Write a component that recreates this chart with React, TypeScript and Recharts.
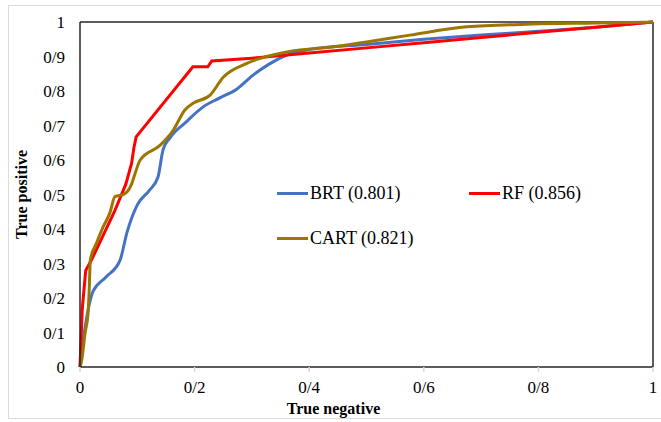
import React from 'react';
import { LineChart, Line, XAxis, YAxis, ReferenceLine } from 'recharts';

// ROC points: x = true negative axis, y = true positive axis
const brtX = [0, 0.009, 0.023, 0.045, 0.07, 0.082, 0.1, 0.12, 0.136, 0.145, 0.157, 0.185, 0.215, 0.244, 0.274, 0.302, 0.33, 0.361, 0.4, 0.5, 0.6, 0.7, 0.8, 0.9, 1];
const brtY = [0, 0.116, 0.22, 0.26, 0.31, 0.39, 0.47, 0.51, 0.55, 0.63, 0.664, 0.71, 0.754, 0.78, 0.806, 0.846, 0.878, 0.904, 0.92, 0.935, 0.95, 0.962, 0.973, 0.985, 1];

const rfX = [0, 0.004, 0.01, 0.02, 0.04, 0.06, 0.08, 0.09, 0.094, 0.098, 0.197, 0.223, 0.23, 0.3, 0.4, 0.5, 0.6, 0.7, 0.8, 0.9, 1];
const rfY = [0, 0.17, 0.28, 0.31, 0.38, 0.45, 0.53, 0.59, 0.635, 0.667, 0.87, 0.87, 0.887, 0.895, 0.91, 0.925, 0.94, 0.955, 0.97, 0.985, 1];

const cartX = [0, 0.003, 0.009, 0.014, 0.016, 0.018, 0.029, 0.04, 0.052, 0.061, 0.076, 0.09, 0.096, 0.105, 0.14, 0.163, 0.183, 0.198, 0.227, 0.25, 0.291, 0.361, 0.45, 0.5, 0.576, 0.675, 0.79, 0.9, 1];
const cartY = [0, 0.02, 0.1, 0.155, 0.22, 0.31, 0.36, 0.405, 0.446, 0.494, 0.5, 0.53, 0.56, 0.6, 0.643, 0.687, 0.745, 0.765, 0.788, 0.84, 0.88, 0.913, 0.93, 0.942, 0.962, 0.986, 0.994, 0.997, 1];

const xTicks = [0, 0.2, 0.4, 0.6, 0.8, 1];
const yTicks = [0, 0.1, 0.2, 0.3, 0.4, 0.5, 0.6, 0.7, 0.8, 0.9, 1];

const series = [
  { name: 'BRT (0.801)', color: '#4472C4', xs: brtX, ys: brtY, curve: 'monotone' },
  { name: 'RF (0.856)', color: '#FF0000', xs: rfX, ys: rfY, curve: 'linear' },
  { name: 'CART (0.821)', color: '#9C7600', xs: cartX, ys: cartY, curve: 'monotone' },
];

const toPoints = (xs: number[], ys: number[]) => xs.map((x, i) => ({ x, y: ys[i] }));

// the original uses "/" as decimal separator
const fmt = (v: number) => (v === 0 || v === 1 ? String(v) : String(Number(v.toFixed(1))).replace('.', '/'));

const font = '"Liberation Serif", "Times New Roman", serif';

function LegendBox() {
  return (
    <div style={{ position: 'absolute', left: 277, top: 181, display: 'grid', gridTemplateColumns: '192px 150px', rowGap: 21, fontFamily: font, fontSize: 18, color: '#000' }}>
      {series.map((s) => (
        <div key={s.name} style={{ display: 'flex', alignItems: 'center', height: 24 }}>
          <span style={{ display: 'inline-block', width: 31, height: 3, background: s.color, marginRight: 2 }} />
          {s.name}
        </div>
      ))}
    </div>
  );
}

export default function App() {
  return (
    <div style={{ position: 'absolute', left: 0, top: 0, width: 661, height: 422, background: '#fff' }}>
      {/* light chart-area border */}
      <div style={{ position: 'absolute', left: 8, top: 5, width: 660, height: 414, border: '1px solid #dcdcdc', boxSizing: 'border-box' }} />
      <LineChart width={661} height={422} margin={{ top: 22, right: 8, bottom: 25, left: 0 }}>
        <XAxis
          type="number"
          dataKey="x"
          domain={[0, 1]}
          ticks={xTicks}
          tickFormatter={fmt}
          stroke="#262626"
          strokeWidth={1.5}
          tickLine={{ stroke: '#d9d9d9' }}
          tickSize={5}
          tickMargin={9}
          tick={{ fill: '#000', fontSize: 17, fontFamily: font }}
          allowDuplicatedCategory={false}
          label={{ value: 'True negative', position: 'bottom', offset: 6, dx: -33, style: { fontFamily: font, fontSize: 16, fontWeight: 'bold', fill: '#000' } }}
        />
        <YAxis
          type="number"
          dataKey="y"
          domain={[0, 1]}
          ticks={yTicks}
          tickFormatter={fmt}
          width={80}
          stroke="#262626"
          strokeWidth={1.5}
          tickLine={false}
          tickSize={0}
          tickMargin={15}
          tick={{ fill: '#000', fontSize: 17, fontFamily: font }}
          label={{ value: 'True positive', angle: -90, position: 'insideLeft', offset: 21, style: { fontFamily: font, fontSize: 16, fontWeight: 'bold', fill: '#000', textAnchor: 'middle' } }}
        />
        <ReferenceLine y={1} stroke="#262626" strokeWidth={1.5} />
        <ReferenceLine x={1} stroke="#262626" strokeWidth={1.5} />
        {series.map((s) => (
          <Line
            key={s.name}
            data={toPoints(s.xs, s.ys)}
            dataKey="y"
            name={s.name}
            type={s.curve as any}
            stroke={s.color}
            strokeWidth={3}
            dot={false}
            isAnimationActive={false}
          />
        ))}
      </LineChart>
      <LegendBox />
    </div>
  );
}
